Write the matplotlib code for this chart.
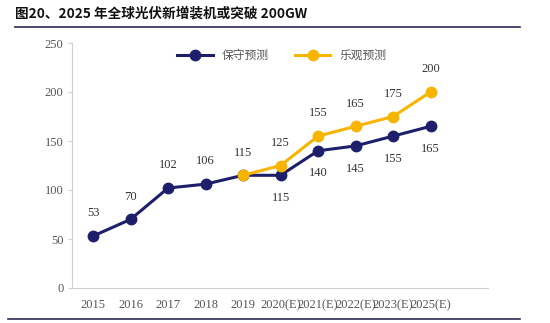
import matplotlib
matplotlib.use('Agg')
import matplotlib.pyplot as plt
from matplotlib.lines import Line2D

# Data
years = ['2015', '2016', '2017', '2018', '2019', '2020(E)', '2021(E)', '2022(E)', '2023(E)', '2025(E)']
conservative = [53, 70, 102, 106, 115, 115, 140, 145, 155, 165]
optimistic_years = years[4:]
optimistic = [115, 125, 155, 165, 175, 200]

navy = '#1d1f6b'
gold = '#f7b500'
gray_text = '#555555'
serif = ['Liberation Serif', 'DejaVu Serif']

fig = plt.figure(figsize=(5.5, 3.23), dpi=100)
ax = fig.add_axes([72/550, 1 - 288/323, (488 - 72)/550, (288 - 43)/323])

x_all = list(range(len(years)))
x_opt = x_all[4:]

ax.plot(x_all, conservative, color=navy, lw=2.2, marker='o', ms=7.5, zorder=3)
ax.plot(x_opt, optimistic, color=gold, lw=2.2, marker='o', ms=7.5, zorder=4)

# data labels
for i, v in enumerate(conservative):
    if i < 5:
        ax.annotate(str(v), (i, v), xytext=(0, 12), textcoords='offset points',
                    ha='center', va='bottom', fontsize=9, color='#333333', family=serif)
    else:
        ax.annotate(str(v), (i, v), xytext=(0, -12), textcoords='offset points',
                    ha='center', va='top', fontsize=9, color='#333333', family=serif)
for i, v in zip(x_opt[1:], optimistic[1:]):
    ax.annotate(str(v), (i, v), xytext=(0, 12), textcoords='offset points',
                ha='center', va='bottom', fontsize=9, color='#333333', family=serif)

ax.set_xlim(-0.56, 10.53)
ax.set_ylim(0, 250)
ax.set_yticks([0, 50, 100, 150, 200, 250])
ax.set_xticks(x_all)
ax.set_xticklabels(years)
for lab in ax.get_xticklabels() + ax.get_yticklabels():
    lab.set_family(serif)
    lab.set_fontsize(9)
    lab.set_color(gray_text)

for s in ['top', 'right']:
    ax.spines[s].set_visible(False)
ax.spines['left'].set_color('#d0d0d0')
ax.spines['bottom'].set_color('#d0d0d0')
ax.tick_params(axis='y', length=3, color='#d0d0d0', pad=3)
ax.tick_params(axis='x', length=0, pad=8)

handles = [Line2D([], [], color=navy, lw=2.2, marker='o', ms=7.5),
           Line2D([], [], color=gold, lw=2.2, marker='o', ms=7.5)]
ax.legend(handles, ['保守预测', '乐观预测'], loc='upper center', bbox_to_anchor=(0.505, 1.02),
          ncol=2, frameon=False, prop={'family': 'Noto Sans CJK SC', 'size': 8.5},
          labelcolor=gray_text, handlelength=3, columnspacing=2.2)

# title and rules
fig.text(15/550, 1 - 14/323, '图20、2025 年全球光伏新增装机或突破 200GW', fontsize=9.8,
         fontweight='bold', family=['Noto Sans CJK SC', 'DejaVu Sans'], va='center', color='#111111')
fig.add_artist(Line2D([15/550, 520/550], [1 - 27/323, 1 - 27/323], color='#2a2a55', lw=1.2))
fig.add_artist(Line2D([8/550, 520/550], [1 - 319/323, 1 - 319/323], color='#2a2a55', lw=1.2))

fig.savefig('out.png', dpi=100)
